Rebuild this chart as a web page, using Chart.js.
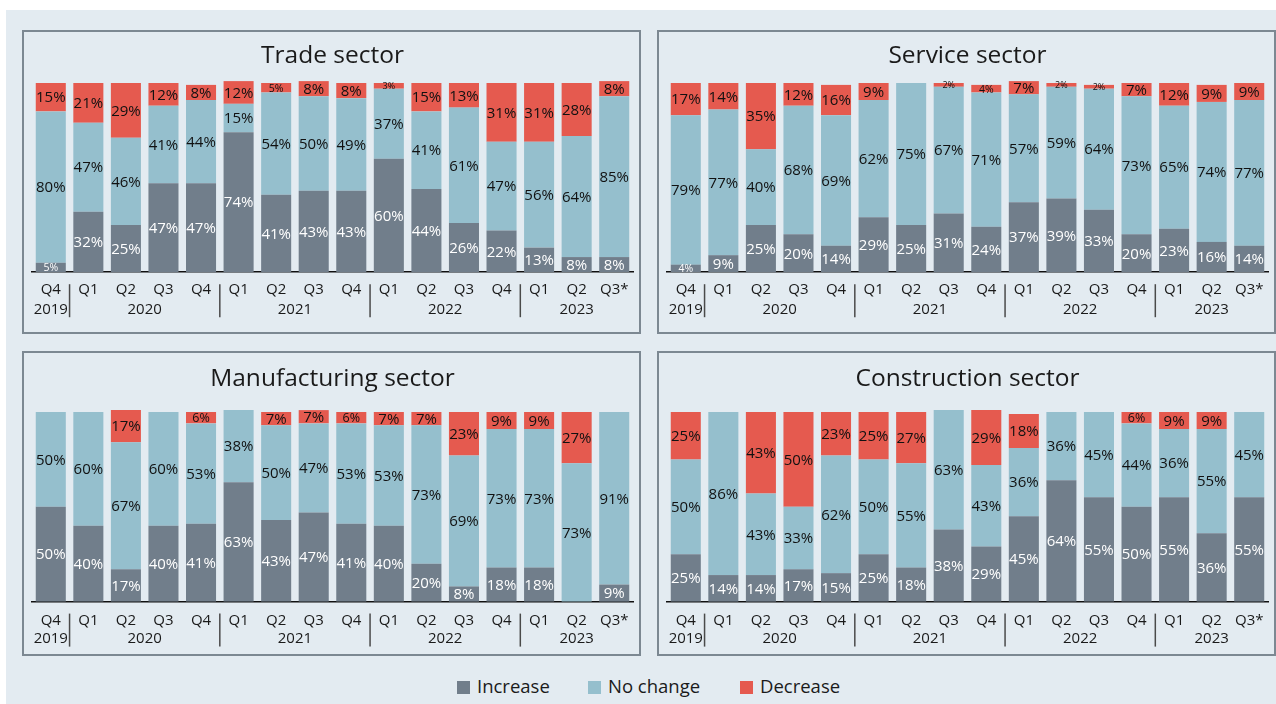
<!DOCTYPE html>
<html>
<head>
<meta charset="utf-8">
<script src="https://cdn.jsdelivr.net/npm/chart.js@4.4.0/dist/chart.umd.min.js"></script>
<style>
    body { margin: 0; background: #fff; width: 1276px; height: 704px; overflow: hidden; font-family: 'Open Sans', sans-serif; }
    #bg { position: absolute; left: 6px; top: 10px; width: 1270px; height: 694px; background: #e3ebf1; }
    .panel { position: absolute; box-sizing: border-box; border: 2px solid #7c8892; }
    .panel canvas { display: block; }
    .leg { position: absolute; top: 674px; font-size: 18.5px; color: #1a1a1a; line-height: 24px; }
    .leg i { display: inline-block; width: 13px; height: 13px; margin-right: 7px; vertical-align: -1px; }
</style>
</head>
<body>
<div id="bg"></div>
<div class="panel" style="left:22px;top:30px;width:619px;height:304px"><canvas id="chart_trade" width="615" height="300"></canvas></div>
<div class="panel" style="left:657px;top:30px;width:619px;height:304px"><canvas id="chart_service" width="615" height="300"></canvas></div>
<div class="panel" style="left:22px;top:351px;width:619px;height:305px"><canvas id="chart_manufacturing" width="615" height="301"></canvas></div>
<div class="panel" style="left:657px;top:351px;width:619px;height:305px"><canvas id="chart_construction" width="615" height="301"></canvas></div>
<div class="leg" style="left:457px"><i style="background:#717e8b"></i>Increase</div>
<div class="leg" style="left:588px"><i style="background:#95bfcd"></i>No change</div>
<div class="leg" style="left:740px"><i style="background:#e55a4f"></i>Decrease</div>

<script>
    "use strict";

    var quarters = ['Q4', 'Q1', 'Q2', 'Q3', 'Q4', 'Q1', 'Q2', 'Q3', 'Q4', 'Q1', 'Q2', 'Q3', 'Q4', 'Q1', 'Q2', 'Q3*'];
    var years = ['2019', '2020', '2021', '2022', '2023'];
    var yearFirst = [0, 1, 5, 9, 13];
    var yearLast = [0, 4, 8, 12, 15];

    var tradeIncrease = [5, 32, 25, 47, 47, 74, 41, 43, 43, 60, 44, 26, 22, 13, 8, 8];
    var tradeNoChange = [80, 47, 46, 41, 44, 15, 54, 50, 49, 37, 41, 61, 47, 56, 64, 85];
    var tradeDecrease = [15, 21, 29, 12, 8, 12, 5, 8, 8, 3, 15, 13, 31, 31, 28, 8];

    var serviceIncrease = [4, 9, 25, 20, 14, 29, 25, 31, 24, 37, 39, 33, 20, 23, 16, 14];
    var serviceNoChange = [79, 77, 40, 68, 69, 62, 75, 67, 71, 57, 59, 64, 73, 65, 74, 77];
    var serviceDecrease = [17, 14, 35, 12, 16, 9, 0, 2, 4, 7, 2, 2, 7, 12, 9, 9];

    var manufacturingIncrease = [50, 40, 17, 40, 41, 63, 43, 47, 41, 40, 20, 8, 18, 18, 0, 9];
    var manufacturingNoChange = [50, 60, 67, 60, 53, 38, 50, 47, 53, 53, 73, 69, 73, 73, 73, 91];
    var manufacturingDecrease = [0, 0, 17, 0, 6, 0, 7, 7, 6, 7, 7, 23, 9, 9, 27, 0];

    var constructionIncrease = [25, 14, 14, 17, 15, 25, 18, 38, 29, 45, 64, 55, 50, 55, 36, 55];
    var constructionNoChange = [50, 86, 43, 33, 62, 50, 55, 63, 43, 36, 36, 45, 44, 36, 55, 45];
    var constructionDecrease = [25, 0, 43, 50, 23, 25, 27, 0, 29, 18, 0, 0, 6, 9, 9, 0];

    Chart.defaults.font.family = "'Open Sans', sans-serif";
    Chart.defaults.color = '#1a1a1a';

    // percent labels inside the bar segments
    var barLabels = {
        id: 'barLabels',
        afterDatasetsDraw: function (chart) {
            var ctx = chart.ctx;
            ctx.save();
            ctx.textAlign = 'center';
            ctx.textBaseline = 'middle';
            chart.data.datasets.forEach(function (ds, i) {
                var meta = chart.getDatasetMeta(i);
                meta.data.forEach(function (bar, j) {
                    var v = ds.data[j];
                    if (!v) return;
                    var size = v <= 3 ? 9 : v <= 5 ? 10.5 : v <= 6 ? 12.5 : 15;
                    ctx.font = size + "px 'Open Sans', sans-serif";
                    ctx.fillStyle = i === 0 ? '#ffffff' : '#111111';
                    ctx.fillText(v + '%', bar.x, (bar.y + bar.base) / 2 + 1);
                });
            });
            ctx.restore();
        }
    };

    // year row under the quarter ticks, with separators
    var yearRow = {
        id: 'yearRow',
        afterDraw: function (chart) {
            var ctx = chart.ctx;
            var xs = chart.scales.x;
            var base = chart.chartArea.bottom;
            var off = chart.options.plugins.yearRow.offset;
            ctx.save();
            ctx.font = "15px 'Open Sans', sans-serif";
            ctx.fillStyle = '#1a1a1a';
            ctx.textAlign = 'center';
            ctx.textBaseline = 'middle';
            years.forEach(function (y, k) {
                var x = (xs.getPixelForValue(yearFirst[k]) + xs.getPixelForValue(yearLast[k])) / 2;
                ctx.fillText(y, x, base + off);
            });
            ctx.strokeStyle = '#4a4a4a';
            ctx.lineWidth = 1.5;
            for (var k = 1; k < years.length; k++) {
                var sx = (xs.getPixelForValue(yearFirst[k] - 1) + xs.getPixelForValue(yearFirst[k])) / 2;
                ctx.beginPath();
                ctx.moveTo(sx, base + 12);
                ctx.lineTo(sx, base + 45);
                ctx.stroke();
            }
            ctx.restore();
        }
    };

    function renderChart(id, title, inc, noc, dec, pad) {
        var ctx = document.getElementById(id);
        return new Chart(ctx, {
            type: 'bar',
            data: {
                labels: quarters,
                datasets: [
                    { label: 'Increase', data: inc, backgroundColor: '#717e8b', clip: false },
                    { label: 'No change', data: noc, backgroundColor: '#95bfcd', clip: false },
                    { label: 'Decrease', data: dec, backgroundColor: '#e55a4f', clip: false }
                ]
            },
            options: {
                responsive: false,
                animation: false,
                barPercentage: 0.8,
                categoryPercentage: 1,
                layout: { padding: { left: 8, right: 6, top: 0, bottom: pad.bottom } },
                plugins: {
                    legend: { display: false },
                    tooltip: { enabled: false },
                    title: {
                        display: true,
                        text: title,
                        color: '#1a1a1a',
                        font: { size: 24.5, weight: 'normal' },
                        padding: { top: pad.titleTop, bottom: pad.titleBottom }
                    },
                    yearRow: { offset: pad.year }
                },
                scales: {
                    x: {
                        stacked: true,
                        grid: { display: false, drawTicks: false },
                        border: { display: true, color: '#111111', width: 1.5 },
                        ticks: { padding: pad.tick, autoSkip: false, maxRotation: 0, color: '#1a1a1a', font: { size: 15 } }
                    },
                    y: { stacked: true, display: false, min: 0, max: 100 }
                }
            },
            plugins: [barLabels, yearRow]
        });
    }

    var topPad = { titleTop: 9.3, titleBottom: 12.3, bottom: 23.8, tick: 9, year: 38 };
    var lowPad = { titleTop: 11.3, titleBottom: 18.3, bottom: 14.4, tick: 10, year: 37 };

    renderChart('chart_trade', 'Trade sector', tradeIncrease, tradeNoChange, tradeDecrease, topPad);
    renderChart('chart_service', 'Service sector', serviceIncrease, serviceNoChange, serviceDecrease, topPad);
    renderChart('chart_manufacturing', 'Manufacturing sector', manufacturingIncrease, manufacturingNoChange, manufacturingDecrease, lowPad);
    renderChart('chart_construction', 'Construction sector', constructionIncrease, constructionNoChange, constructionDecrease, lowPad);
</script>
</body>
</html>
